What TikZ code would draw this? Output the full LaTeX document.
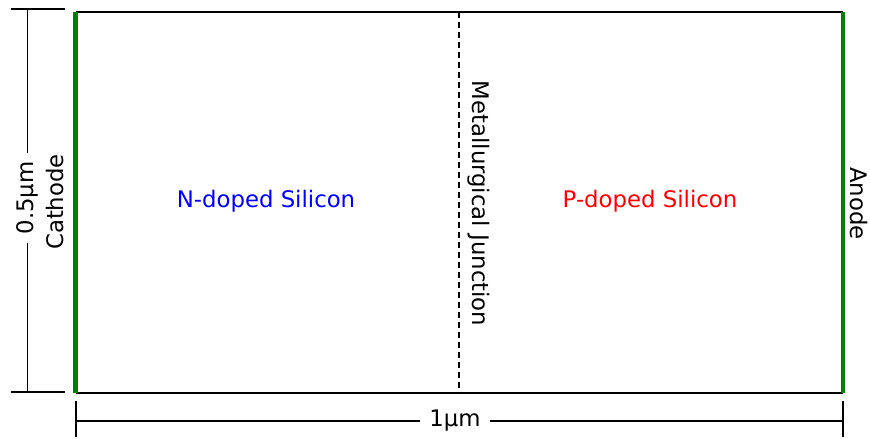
\documentclass[tikz,border=0pt]{standalone}
\usepackage{fontspec}
\setmainfont{DejaVu Sans}
\usetikzlibrary{calc}
\definecolor{contactgreen}{rgb}{0,0.5,0}
\tikzstyle{contact}=[line width=2.2pt,draw=contactgreen]
\tikzstyle{edge}=[line width=0.8pt]
\tikzstyle{junction}=[line width=0.6pt,dash pattern=on 3pt off 2pt]
\tikzstyle{dimlabel}=[fill=white,inner xsep=4.5pt,inner ysep=2.5pt]

\begin{document}
\begin{tikzpicture}[x=0.5pt,y=0.5pt,font=\fontsize{11.4}{13}\selectfont]
	\useasboundingbox (0,0) rectangle (870,438);
	% device outline
	\coordinate (nw) at (75.5,426);
	\coordinate (sw) at (75.5,45);
	\coordinate (ne) at (843,426);
	\coordinate (se) at (843,45);
	\coordinate (jn) at (459,426);
	\coordinate (js) at (459,45);
	\draw[edge] (nw) -- (ne) (sw) -- (se);
	\draw[junction] (jn) -- (js);
	\draw[contact] (nw) -- (sw);
	\draw[contact] (ne) -- (se);
	% regions
	\node[text=blue] (ndoped) at (266,236.5) {N-doped Silicon};
	\node[text=red] (pdoped) at (650,236.5) {P-doped Silicon};
	\node[rotate=-90] (junc) at (479,234.5) {Metallurgical Junction};
	\node[rotate=90] (cathode) at (55,236) {Cathode};
	\node[rotate=-90] (anode) at (859,234.5) {Anode};
	% height
	\coordinate (ht) at (27.5,429);
	\coordinate (hb) at (27.5,46);
	\draw[edge] ($(ht)+(-17,0)$) -- ($(ht)+(37.5,0)$);
	\draw[edge] ($(hb)+(-17,0)$) -- ($(hb)+(37.5,0)$);
	\draw[edge] (ht) -- (hb);
	\node[dimlabel,rotate=90] (height) at (27.5,240) {0.5µm};
	% width
	\coordinate (wl) at (76,17);
	\coordinate (wr) at (843,17);
	\draw[edge] ($(wl)+(0,20)$) -- ($(wl)+(0,-16)$);
	\draw[edge] ($(wr)+(0,20)$) -- ($(wr)+(0,-16)$);
	\draw[edge] (wl) -- (wr);
	\node[dimlabel] (width) at (455,17) {1µm};
\end{tikzpicture}
\end{document}
